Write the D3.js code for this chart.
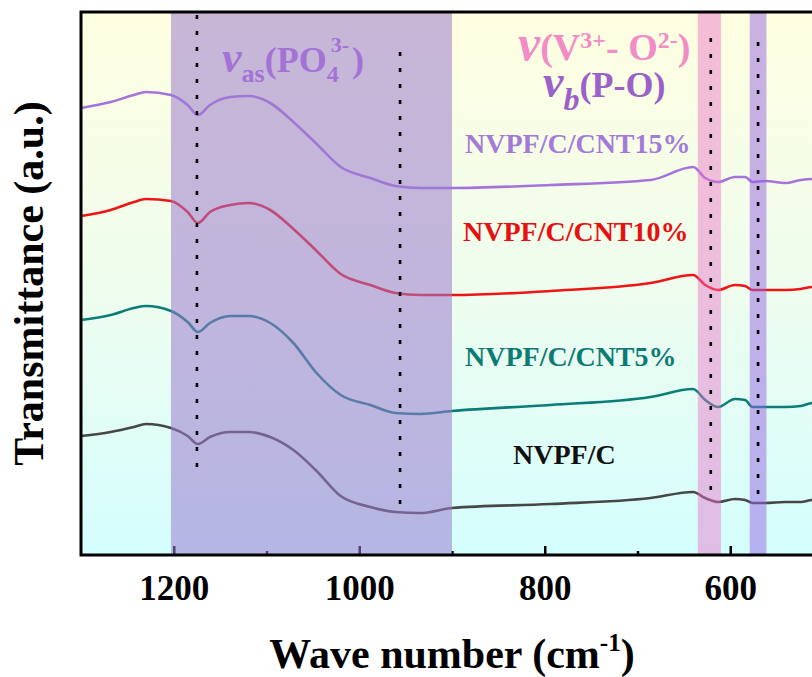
<!DOCTYPE html>
<html>
<head>
<meta charset="utf-8">
<script src="https://cdn.jsdelivr.net/npm/d3@7"></script>
<style>
  body { margin: 0; background: #fff; }
  svg text { font-family: "Liberation Serif", "Times New Roman", serif; font-weight: bold; }
</style>
</head>
<body>
<div id="chart"></div>
<script>
var width = 812
var height = 677

var wavenumbers = [1300, 1268, 1243, 1230, 1203, 1185, 1174, 1161, 1139, 1119, 1096, 1071, 1047, 1020, 988, 961, 934, 900, 794, 686, 640, 627, 613, 595, 584, 576, 562, 541, 524, 511, 500]

// transmittance, arbitrary units
var cnt15 = [447, 453, 460, 463, 460, 450, 440, 450, 458, 459, 452, 433, 412, 388, 377, 369, 367, 367, 370, 375, 388, 377, 373, 378, 378, 373, 374, 372, 375, 376, 376]
var cnt10 = [339, 345, 353, 356, 354, 343, 332, 343, 350, 352, 345, 326, 305, 281, 270, 262, 260, 260, 264, 272, 280, 270, 265, 270, 269, 265, 265, 265, 266, 268, 268]
var cnt5  = [235, 240, 247, 249, 244, 233, 223, 232, 239, 239, 232, 212, 183, 160, 150, 142, 141, 144, 150, 158, 166, 155, 148, 156, 155, 148, 148, 148, 149, 152, 152]
var nvpf  = [119, 123, 128, 131, 127, 119, 111, 118, 123, 123, 118, 105, 85, 59, 48, 43, 42, 47, 51, 57, 63, 57, 53, 56, 55, 52, 52, 53, 53, 55, 55]

var seriesNames = ["NVPF/C/CNT15%", "NVPF/C/CNT10%", "NVPF/C/CNT5%", "NVPF/C"]
var seriesColors = ["#a474dc", "#ee1515", "#0b7d78", "#474747"]
var labelColors = ["#a47ad8", "#e81010", "#0d7b74", "#111111"]

// shaded bands [from, to] and dotted markers [wavenumber, bottom, top]
var bands = [[1203, 900], [635, 610], [579, 561]]
var bandColors = ["rgba(155,122,205,0.55)", "rgba(235,110,200,0.45)", "rgba(150,100,225,0.5)"]
var markers = [[1175, 78, 540], [956, 42, 503], [621, 55, 517], [570, 53, 513]]

var majorTicks = [1200, 1000, 800, 600]
var minorTicks = [1100, 900, 700]

var svg = d3.select("#chart")
  .append("svg")
    .attr("width", width)
    .attr("height", height)

var x = d3.scaleLinear().domain([1300, 500]).range([81, 823])
var y = d3.scaleLinear().domain([0, 543]).range([555, 12])

// background gradient yellow -> cyan
var grad = svg.append("defs").append("linearGradient")
  .attr("id", "bg").attr("x1", 0).attr("y1", 0).attr("x2", 0).attr("y2", 1)
grad.append("stop").attr("offset", "0%").attr("stop-color", "#fefee0")
grad.append("stop").attr("offset", "50%").attr("stop-color", "#effdee")
grad.append("stop").attr("offset", "100%").attr("stop-color", "#d4fefe")

svg.append("rect")
  .attr("x", x(1300)).attr("y", y(543))
  .attr("width", x(500) - x(1300)).attr("height", y(0) - y(543))
  .attr("fill", "url(#bg)")

// spectra
var allSeries = [cnt15, cnt10, cnt5, nvpf]
var line = d3.line()
  .x(function(d, i) { return x(wavenumbers[i]) })
  .y(function(d) { return y(d) })
  .curve(d3.curveMonotoneX)

svg.append("g").selectAll("path")
  .data(allSeries)
  .enter().append("path")
    .attr("d", line)
    .attr("fill", "none")
    .attr("stroke", function(d, i) { return seriesColors[i] })
    .attr("stroke-width", 2.6)

// x axis ticks (inward)
var axisY = y(0)
var major = svg.append("g")
  .attr("transform", "translate(0," + axisY + ")")
  .call(d3.axisBottom(x).tickValues(majorTicks).tickSize(-9).tickPadding(20).tickFormat(d3.format("d")))
var minor = svg.append("g")
  .attr("transform", "translate(0," + axisY + ")")
  .call(d3.axisBottom(x).tickValues(minorTicks).tickSize(-4).tickFormat(""))
svg.selectAll(".domain").remove()
svg.selectAll(".tick line").attr("stroke", "#000").attr("stroke-width", 2.5)
major.selectAll("text")
  .attr("fill", "#000")
  .style("font-size", "35px")

// shaded bands drawn over the curves
svg.append("g").selectAll("rect")
  .data(bands)
  .enter().append("rect")
    .attr("x", function(d) { return x(d[0]) })
    .attr("width", function(d) { return x(d[1]) - x(d[0]) })
    .attr("y", y(543))
    .attr("height", y(0) - y(543))
    .attr("fill", function(d, i) { return bandColors[i] })

// dotted markers
svg.append("g").selectAll("line")
  .data(markers)
  .enter().append("line")
    .attr("x1", function(d) { return x(d[0]) })
    .attr("x2", function(d) { return x(d[0]) })
    .attr("y1", function(d) { return y(d[2]) })
    .attr("y2", function(d) { return y(d[1]) })
    .attr("stroke", "#000")
    .attr("stroke-width", 2.6)
    .attr("stroke-dasharray", "4,12")

// frame
svg.append("rect")
  .attr("x", x(1300)).attr("y", y(543))
  .attr("width", x(500) - x(1300)).attr("height", y(0) - y(543))
  .attr("fill", "none")
  .attr("stroke", "#000")
  .attr("stroke-width", 3)

// series labels
var labelPos = [[465, 153], [463, 241], [465, 366], [513, 464]]
svg.append("g").selectAll("text")
  .data(seriesNames)
  .enter().append("text")
    .attr("x", function(d, i) { return labelPos[i][0] })
    .attr("y", function(d, i) { return labelPos[i][1] })
    .attr("fill", function(d, i) { return labelColors[i] })
    .style("font-size", "28px")
    .text(function(d) { return d })

// band annotations
var t1 = svg.append("text").attr("x", 222).attr("y", 72).attr("fill", "#a272d6")
t1.append("tspan").style("font-style", "italic").style("font-size", "44px").text("v")
t1.append("tspan").style("font-size", "26px").attr("dy", 10).text("as")
t1.append("tspan").style("font-size", "36px").attr("dy", -10).text("(PO")
t1.append("tspan").style("font-size", "24px").attr("dy", 10).text("4")
t1.append("tspan").style("font-size", "22px").attr("dx", -8).attr("dy", -30).text("3-")
t1.append("tspan").style("font-size", "36px").attr("dx", 3).attr("dy", 20).text(")")

var t2 = svg.append("text").attr("x", 518).attr("y", 60).attr("fill", "#f28cc6")
t2.append("tspan").style("font-style", "italic").style("font-size", "50px").text("v")
t2.append("tspan").style("font-size", "38px").text("(V")
t2.append("tspan").style("font-size", "24px").attr("dy", -12).text("3+")
t2.append("tspan").style("font-size", "38px").attr("dy", 12).text("- O")
t2.append("tspan").style("font-size", "24px").attr("dy", -12).text("2-")
t2.append("tspan").style("font-size", "38px").attr("dy", 12).text(")")

var t3 = svg.append("text").attr("x", 543).attr("y", 97).attr("fill", "#9a62c8")
t3.append("tspan").style("font-style", "italic").style("font-size", "46px").text("v")
t3.append("tspan").style("font-style", "italic").style("font-size", "32px").attr("dy", 13).text("b")
t3.append("tspan").style("font-size", "36px").attr("dy", -13).text("(P-O)")

// axis titles
var xt = svg.append("text")
  .attr("x", (x(1300) + x(500)) / 2)
  .attr("y", 668)
  .attr("text-anchor", "middle")
  .style("font-size", "42px")
xt.append("tspan").text("Wave number (cm")
xt.append("tspan").style("font-size", "25px").attr("dy", -17).text("-1")
xt.append("tspan").attr("dy", 17).text(")")

svg.append("text")
  .attr("transform", "translate(43," + ((y(0) + y(543)) / 2) + ") rotate(-90)")
  .attr("text-anchor", "middle")
  .style("font-size", "42px")
  .text("Transmittance (a.u.)")
</script>
</body>
</html>
